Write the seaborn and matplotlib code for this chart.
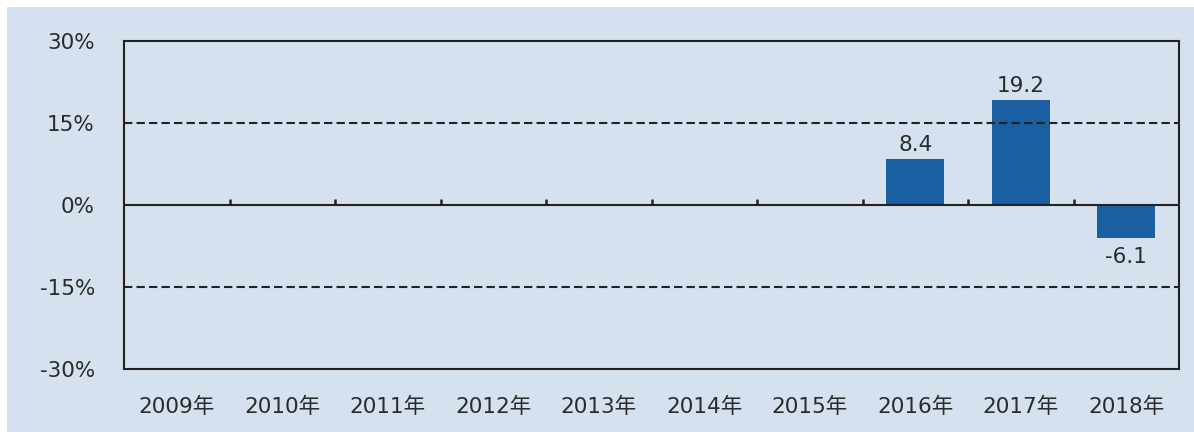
import matplotlib
matplotlib.use("Agg")
import matplotlib.pyplot as plt
from matplotlib.patches import Rectangle
import seaborn as sns
import pandas as pd
import numpy as np

years = ["2009年", "2010年", "2011年", "2012年", "2013年",
         "2014年", "2015年", "2016年", "2017年", "2018年"]
growth = [np.nan, np.nan, np.nan, np.nan, np.nan,
          np.nan, np.nan, 8.4, 19.2, -6.1]
y_ticks = [-30, -15, 0, 15, 30]

bg = "#d6e1ef"
bar_color = "#1a5fa2"
text_color = "#2a2a2a"

sns.set_style("white")
# wide latin digits (Verdana-like) with CJK fallback for 年
plt.rcParams["font.family"] = ["DejaVu Sans", "Noto Sans CJK JP"]

df = pd.DataFrame({"year": years, "growth": growth})

fig = plt.figure(figsize=(11.94, 4.32), dpi=100, facecolor="white")
# light blue panel behind the chart (thin white strip on top/left)
fig.patches.append(Rectangle((7 / 1194, 0), 1, 1 - 7 / 432,
                             transform=fig.transFigure, facecolor=bg,
                             edgecolor="none", zorder=-10))
ax = fig.add_axes([0.1039, 0.1458, 0.8836, 0.7593])
ax.set_facecolor(bg)

sns.barplot(data=df, x="year", y="growth", order=years, color=bar_color,
            saturation=1, width=0.55, linewidth=0, ax=ax)

ax.set_ylim(-30, 30)
ax.set_xlim(-0.5, len(years) - 0.5)
ax.set_yticks(y_ticks)
ax.set_yticklabels([f"{t}%" for t in y_ticks])
ax.set_xlabel("")
ax.set_ylabel("")

# dashed reference lines and solid zero line
for t in (15, -15):
    ax.axhline(t, color="#222222", lw=1.5, ls=(0, (4, 2)), zorder=1)
ax.axhline(0, color="#222222", lw=1.5, zorder=3)

# small category separators on the zero line
bounds = np.arange(len(years) - 1) + 0.5
ax.vlines(bounds, 0, 1.1, color="#222222", lw=1.8, zorder=3)

for i, v in enumerate(growth):
    if np.isnan(v):
        continue
    if v >= 0:
        ax.annotate(f"{v:.1f}", (i, v), xytext=(0, 3), textcoords="offset points",
                    ha="center", va="bottom", fontsize=15.5, color=text_color)
    else:
        ax.annotate(f"{v:.1f}", (i, v), xytext=(0, -6), textcoords="offset points",
                    ha="center", va="top", fontsize=15.5, color=text_color)

for s in ax.spines.values():
    s.set_visible(True)
    s.set_color("#222222")
    s.set_linewidth(1.5)

ax.tick_params(axis="both", length=0, labelsize=15.5, colors=text_color)
ax.tick_params(axis="y", pad=21)
ax.tick_params(axis="x", pad=20)

fig.savefig("out.png", dpi=100, facecolor=fig.get_facecolor())
